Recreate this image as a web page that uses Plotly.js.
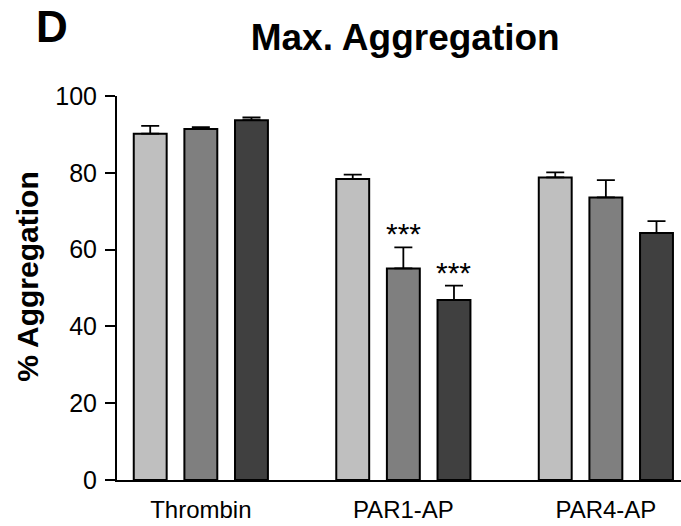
<!DOCTYPE html>
<html>
<head>
<meta charset="utf-8">
<script src="https://cdn.plot.ly/plotly-3.0.1.min.js"></script>
<style>
  html, body { margin: 0; padding: 0; background: #fff; }
  #chart { width: 681px; height: 526px; }
</style>
</head>
<body>
<div id="chart"></div>
<script>
// Agonists tested
const categories = ['Thrombin', 'PAR1-AP', 'PAR4-AP'];

// Mean maximal aggregation (%) for the three treatment conditions
const meanA = [90.2, 78.4, 78.8];
const meanB = [91.4, 55.1, 73.6];
const meanC = [93.7, 46.9, 64.3];

// Standard error of the mean (upper bars only)
const semA = [2.0, 1.1, 1.3];
const semB = [0.5, 5.5, 4.5];
const semC = [0.7, 3.7, 3.1];

// Significance markers per bar
const sigA = ['', '', ''];
const sigB = ['', '***', ''];
const sigC = ['', '***', ''];

const yTicks = [0, 20, 40, 60, 80, 100];

const FONT = 'Liberation Sans, Arial, Helvetica, sans-serif';
const BARGAP = 0.25;
const BARGROUPGAP = 0.35;
const LINE_W = 2;

const series = [
  { name: 'Condition A', y: meanA, err: semA, sig: sigA, color: '#bfbfbf' },
  { name: 'Condition B', y: meanB, err: semB, sig: sigB, color: '#7f7f7f' },
  { name: 'Condition C', y: meanC, err: semC, sig: sigC, color: '#404040' }
];

const traces = series.map(s => ({
  type: 'bar',
  name: s.name,
  x: categories,
  y: s.y,
  marker: { color: s.color, line: { color: '#000', width: LINE_W } },
  error_y: {
    type: 'data',
    symmetric: false,
    array: s.err,
    arrayminus: s.err.map(() => 0),
    color: '#000',
    thickness: 1.8,
    width: 9
  },
  hoverinfo: 'skip'
}));

// Bar slot width inside each group, used to place the significance stars
const slot = (1 - BARGAP) / series.length;
const annotations = [];
series.forEach((s, si) => {
  s.sig.forEach((label, ci) => {
    if (!label) return;
    annotations.push({
      xref: 'x', yref: 'y',
      x: ci + (si - (series.length - 1) / 2) * slot,
      y: s.y[ci] + s.err[ci],
      text: label,
      showarrow: false,
      xanchor: 'center', yanchor: 'bottom',
      yshift: -5,
      font: { family: FONT, size: 30, color: '#000' }
    });
  });
});

// Panel letter
annotations.push({
  xref: 'paper', yref: 'paper',
  x: -0.147, y: 1.18,
  xanchor: 'left', yanchor: 'middle',
  text: '<b>D</b>', showarrow: false,
  font: { family: FONT, size: 44, color: '#000' }
});

// Y axis title
annotations.push({
  xref: 'paper', yref: 'paper',
  x: -0.16, y: 0.531,
  xanchor: 'center', yanchor: 'middle',
  textangle: -90,
  text: '<b>% Aggregation</b>', showarrow: false,
  font: { family: FONT, size: 30, color: '#000' }
});

const layout = {
  width: 681,
  height: 526,
  margin: { l: 117, r: 0, t: 96, b: 46 },
  paper_bgcolor: '#fff',
  plot_bgcolor: '#fff',
  showlegend: false,
  barmode: 'group',
  bargap: BARGAP,
  bargroupgap: BARGROUPGAP,
  title: {
    text: '<b>Max. Aggregation</b>',
    font: { family: FONT, size: 37, color: '#000' },
    x: 0.595, xref: 'container', xanchor: 'center',
    y: 0.93, yref: 'container', yanchor: 'middle'
  },
  xaxis: {
    type: 'category',
    range: [-0.414, 2.371],
    showline: true, linecolor: '#000', linewidth: LINE_W,
    ticks: '', showgrid: false, zeroline: false,
    ticklabelstandoff: 7,
    tickfont: { family: FONT, size: 24, color: '#000' },
    fixedrange: true
  },
  yaxis: {
    range: [0, 100],
    tickvals: yTicks,
    ticktext: yTicks.map(String),
    showline: true, linecolor: '#000', linewidth: LINE_W,
    ticks: 'outside', ticklen: 10, tickwidth: LINE_W, tickcolor: '#000',
    showgrid: false, zeroline: false,
    ticklabelstandoff: 3,
    tickfont: { family: FONT, size: 25, color: '#000' },
    fixedrange: true
  },
  annotations: annotations
};

Plotly.newPlot('chart', traces, layout, { displayModeBar: false, staticPlot: true });
</script>
</body>
</html>
